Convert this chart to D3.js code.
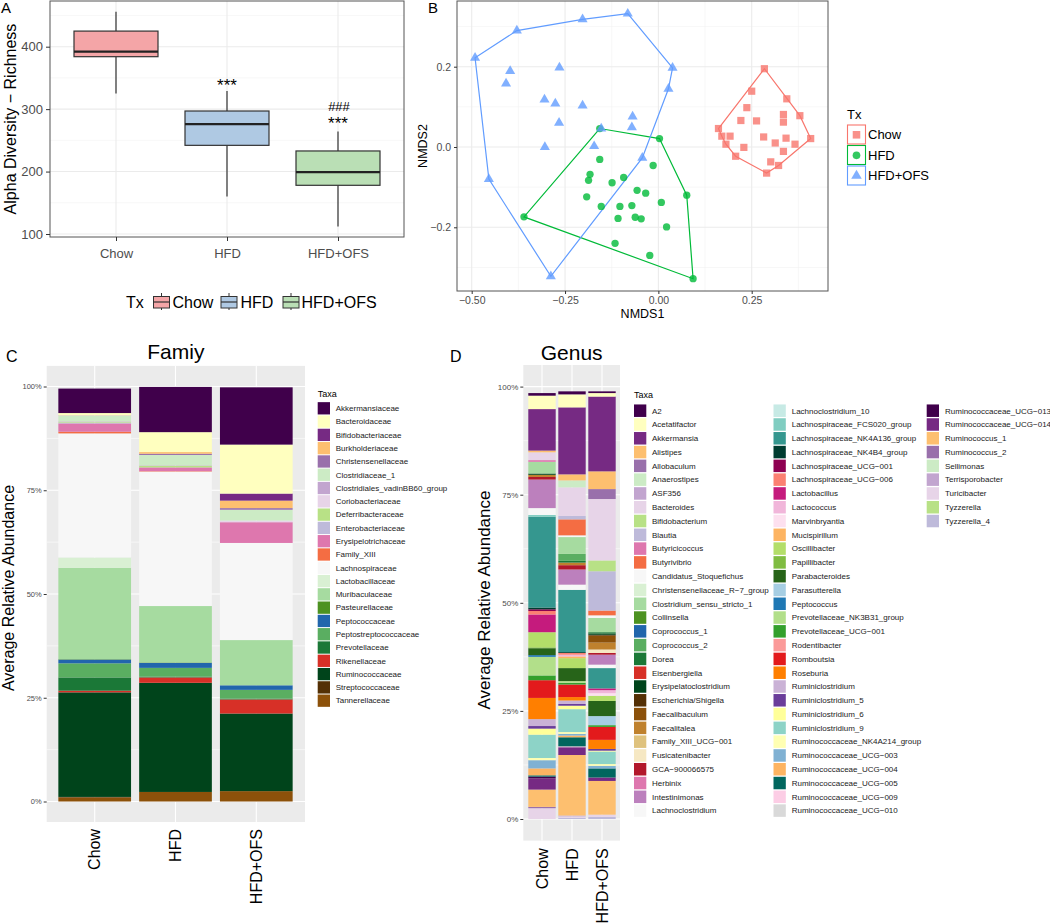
<!DOCTYPE html>
<html><head><meta charset="utf-8">
<script src="https://cdn.jsdelivr.net/npm/d3@7"></script>
<style>body{margin:0;background:#fff}svg{display:block;font-family:"Liberation Sans",Arial,Helvetica,sans-serif}</style>
</head><body>
<svg id="c" width="1050" height="924"></svg>
<script>
// ---------- DATA ----------
const txGroups = ["Chow", "HFD", "HFD+OFS"];
const txFill = ["#F4A5A7", "#AFC9E3", "#BADFB5"];
const txColor = ["#F8766D", "#00BA38", "#619CFF"];

// Panel A: boxplot statistics of richness
const boxMin = [325, 160, 112];
const boxQ1 = [384, 242, 178];
const boxMed = [392, 276, 199];
const boxQ3 = [425, 297, 233];
const boxMax = [456, 329, 264];
const richTicks = [100, 200, 300, 400];

// Panel B: NMDS ordination
const chowX = [0.284,0.250,0.344,0.237,0.335,0.379,0.221,0.263,0.335,0.161,0.170,0.192,0.282,0.342,0.408,0.181,0.229,0.313,0.366,0.335,0.207,0.301,0.322,0.290];
const chowY = [0.195,0.139,0.120,0.098,0.081,0.078,0.066,0.065,0.062,0.046,0.027,0.027,0.025,0.022,0.021,0.007,-0.001,0.010,0.007,-0.011,-0.023,-0.037,-0.046,-0.065];
const hfdX = [-0.157,0.003,0.076,0.093,-0.360,-0.157,-0.014,-0.183,-0.187,-0.093,-0.124,-0.057,-0.034,-0.192,-0.153,-0.103,-0.071,0.008,-0.108,-0.062,-0.046,0.022,-0.116,-0.023];
const hfdY = [0.046,0.021,-0.120,-0.328,-0.174,-0.031,-0.046,-0.068,-0.083,-0.076,-0.089,-0.108,-0.115,-0.124,-0.148,-0.148,-0.146,-0.138,-0.178,-0.175,-0.179,-0.199,-0.240,-0.270];
const ofsX = [-0.491,-0.379,-0.203,-0.082,0.038,-0.397,-0.265,-0.408,-0.305,-0.276,-0.203,-0.266,-0.069,-0.071,-0.153,0.027,-0.304,-0.172,-0.043,-0.454,-0.288];
const ofsY = [0.222,0.290,0.318,0.332,0.197,0.189,0.198,0.158,0.118,0.108,0.103,0.060,0.076,0.049,0.046,0.145,0.000,0.002,-0.027,-0.080,-0.322];
const nmds1Ticks = [-0.5, -0.25, 0, 0.25];
const nmds1Minor = [-0.375, -0.125, 0.125, 0.375];
const nmds2Ticks = [-0.2, 0, 0.2];
const nmds2Minor = [-0.3, -0.1, 0.1, 0.3];

// Panel C: family relative abundance (%)
const families = ["Akkermansiaceae","Bacteroidaceae","Bifidobacteriaceae","Burkholderiaceae","Christensenellaceae","Clostridiaceae_1","Clostridiales_vadinBB60_group","Coriobacteriaceae","Deferribacteraceae","Enterobacteriaceae","Erysipelotrichaceae","Family_XIII","Lachnospiraceae","Lactobacillaceae","Muribaculaceae","Pasteurellaceae","Peptococcaceae","Peptostreptococcaceae","Prevotellaceae","Rikenellaceae","Ruminococcaceae","Streptococcaceae","Tannerellaceae"];
const familyColors = ["#40004B","#FFFFBF","#762A83","#FDBF6F","#9970AB","#CCEBC5","#C2A5CF","#E7D4E8","#B8E186","#BEBADA","#DE77AE","#F46D43","#F7F7F7","#D9F0D3","#A6DBA0","#4D9221","#2166AC","#5AAE61","#1B7837","#D73027","#00441B","#543005","#8C510A"];
const famChow = [5.9,0.6,0,0,0.1,1.3,0.1,0,0.2,0.2,2.0,0.4,29.9,2.5,22.0,0.1,0.9,3.4,3.2,0.4,25.2,0.1,1.0];
const famHFD  = [10.9,4.8,0,0.4,0.3,2.5,0.1,0,0.4,0,0.9,0.1,32.4,0,13.6,0.1,1.2,2.1,0.2,1.3,26.3,0,2.3];
const famOFS  = [13.8,11.8,1.7,1.8,0.4,2.6,0,0.4,0,0,5.0,0,23.4,0,10.9,0,1.1,2.1,0.2,3.4,18.7,0,2.5];

// Panel D: genus relative abundance (%)
const genera = ["A2","Acetatifactor","Akkermansia","Alistipes","Allobaculum","Anaerostipes","ASF356","Bacteroides","Bifidobacterium","Blautia","Butyricicoccus","Butyrivibrio","Candidatus_Stoquefichus","Christensenellaceae_R\u22127_group","Clostridium_sensu_stricto_1","Collinsella","Coprococcus_1","Coprococcus_2","Dorea","Eisenbergiella","Erysipelatoclostridium","Escherichia/Shigella","Faecalibaculum","Faecalitalea","Family_XIII_UCG\u2212001","Fusicatenibacter","GCA\u2212900066575","Herbinix","Intestinimonas","Lachnoclostridium",
"Lachnoclostridium_10","Lachnospiraceae_FCS020_group","Lachnospiraceae_NK4A136_group","Lachnospiraceae_NK4B4_group","Lachnospiraceae_UCG\u2212001","Lachnospiraceae_UCG\u2212006","Lactobacillus","Lactococcus","Marvinbryantia","Mucispirillum","Oscillibacter","Papillibacter","Parabacteroides","Parasutterella","Peptococcus","Prevotellaceae_NK3B31_group","Prevotellaceae_UCG\u2212001","Rodentibacter","Romboutsia","Roseburia","Ruminiclostridium","Ruminiclostridium_5","Ruminiclostridium_6","Ruminiclostridium_9","Ruminococcaceae_NK4A214_group","Ruminococcaceae_UCG\u2212003","Ruminococcaceae_UCG\u2212004","Ruminococcaceae_UCG\u2212005","Ruminococcaceae_UCG\u2212009","Ruminococcaceae_UCG\u2212010",
"Ruminococcaceae_UCG\u2212013","Ruminococcaceae_UCG\u2212014","Ruminococcus_1","Ruminococcus_2","Sellimonas","Terrisporobacter","Turicibacter","Tyzzerella","Tyzzerella_4"];
const genusColors = ["#40004B","#FFFFBF","#762A83","#FDBF6F","#9970AB","#CCEBC5","#C2A5CF","#E7D4E8","#B8E186","#BEBADA","#DE77AE","#F46D43","#F7F7F7","#D9F0D3","#A6DBA0","#4D9221","#2166AC","#5AAE61","#1B7837","#D73027","#00441B","#543005","#8C510A","#BF812D","#DFC27D","#F6E8C3","#B2182B","#DE77AE","#BC80BD","#F7F7F7",
"#C7EAE5","#80CDC1","#35978F","#003C30","#8E0152","#FB8072","#C51B7D","#F1B6DA","#FDE0EF","#FDB462","#B3DE69","#7FBC41","#276419","#A6CEE3","#1F78B4","#B2DF8A","#33A02C","#FB9A99","#E31A1C","#FF7F00","#CAB2D6","#6A3D9A","#FFFF99","#8DD3C7","#FFFFB3","#80B1D3","#FDB462","#01665E","#FCCDE5","#D9D9D9",
"#40004B","#762A83","#FDBF6F","#9970AB","#CCEBC5","#C2A5CF","#E7D4E8","#B8E186","#BEBADA"];
const genChow = [0.6,3.1,9.6,0.4,0,0,0,1.8,0,0,0.4,0,0,0,2.7,0,0,0,0,0,0.3,0,0,0.5,0,0,0.6,0,6.6,1.6,
0,0.4,21.0,0.4,0.4,0.8,4.1,0,0,0,3.5,0.2,1.6,0,0.4,4.3,1.1,0,4.1,4.9,1.6,0.6,1.4,5.4,0.5,1.9,1.6,0.3,0,0,
0.4,2.6,4.0,0.3,0,0,2.5,0,0];
const genHFD = [0.7,3.0,15.5,1.4,0,1.6,0,6.6,0,0.8,0,3.7,0.4,0,3.9,0,0,1.6,0.4,0,0,0,0,0.6,0,0,1.0,0,3.5,1.2,
0,0,14.4,0.2,0,0.4,0,0.4,0,0.4,2.3,0,3.0,0,0,0.4,0.4,0,2.9,0.8,0.8,0.4,0.8,5.3,0.4,0.4,0.4,2.1,0.2,0,
0,1.8,14.0,0,0,0.2,0.3,0,0.3];
const genOFS = [0.4,0.8,17.3,4.1,2.3,0,0,14.2,2.5,9.1,0,1.1,0.6,0,3.3,0,0,0,0.3,0,0.3,0.2,1.6,1.6,0,0.8,0.4,0,2.3,0.8,
0,0,4.7,0,0,0,0.4,0.7,0.6,0,1.2,0,3.5,2.1,0,0,0.4,0,3.0,2.1,0,0.4,0.2,2.9,0.4,0.6,0,2.1,0,0,
0,0.8,7.8,0,0,0,0.5,0,0.5];
const pctTicks = [0, 25, 50, 75, 100];
const pctMinor = [12.5, 37.5, 62.5, 87.5];

// ---------- DRAW ----------
const svg = d3.select("#c");
const F = '"Liberation Sans",Arial,Helvetica,sans-serif';
function hline(g, x1, x2, y, col, w){ g.append("line").attr("x1",x1).attr("x2",x2).attr("y1",y).attr("y2",y).attr("stroke",col).attr("stroke-width",w); }
function vline(g, x, y1, y2, col, w){ g.append("line").attr("x1",x).attr("x2",x).attr("y1",y1).attr("y2",y2).attr("stroke",col).attr("stroke-width",w); }
function txt(g, x, y, s, size, anchor, col){ return g.append("text").attr("x",x).attr("y",y).text(s).attr("font-size",size).attr("text-anchor",anchor||"start").attr("fill",col||"#000"); }

// ===== Panel A =====
(function(){
  const g = svg.append("g");
  const L=50, R=404, T=1, B=237;
  const x = d3.scalePoint().domain(txGroups).range([116, 338]);
  const y = d3.scaleLinear().domain([100, 400]).range([234, 46.7]);
  [150,250,350,450].forEach(v => hline(g, L, R, y(v), "#F2F2F2", 0.6));
  richTicks.forEach(v => hline(g, L, R, y(v), "#EBEBEB", 1.1));
  txGroups.forEach(k => vline(g, x(k), T, B, "#EBEBEB", 1.1));
  const bw = 84;
  txGroups.forEach((k, i) => {
    const cx = x(k);
    vline(g, cx, y(boxMax[i]), y(boxQ3[i]), "#333", 1.2);
    vline(g, cx, y(boxQ1[i]), y(boxMin[i]), "#333", 1.2);
    g.append("rect").attr("x", cx-bw/2).attr("y", y(boxQ3[i])).attr("width", bw).attr("height", y(boxQ1[i])-y(boxQ3[i]))
      .attr("fill", txFill[i]).attr("stroke", "#333").attr("stroke-width", 1.2);
    hline(g, cx-bw/2, cx+bw/2, y(boxMed[i]), "#222", 2.2);
  });
  g.append("rect").attr("x",L).attr("y",T).attr("width",R-L).attr("height",B-T).attr("fill","none").attr("stroke","#555").attr("stroke-width",1);
  const ya = g.append("g").attr("transform",`translate(${L},0)`).call(d3.axisLeft(y).tickValues(richTicks).tickSize(4).tickPadding(3));
  const xa = g.append("g").attr("transform",`translate(0,${B})`).call(d3.axisBottom(x).tickSize(4).tickPadding(5));
  [ya, xa].forEach(a => { a.select(".domain").remove(); a.selectAll("line").attr("stroke","#333"); a.selectAll("text").attr("font-size",13).attr("fill","#4D4D4D").attr("font-family",F); });
  xa.selectAll("text").attr("dy","0.9em");
  g.append("text").attr("transform","translate(16,119) rotate(-90)").attr("text-anchor","middle").attr("font-size",16).text("Alpha Diversity \u2212 Richness");
  txt(g, x("HFD"), 91, "***", 17, "middle");
  txt(g, x("HFD+OFS")+1, 110.5, "###", 13, "middle");
  txt(g, x("HFD+OFS"), 129, "***", 17, "middle");
  txt(g, 1, 13, "A", 15);
  // legend
  txt(g, 126, 307.5, "Tx", 16);
  const keyX = [153.5, 221, 283], labX = [172.5, 240.5, 301.5];
  txGroups.forEach((k,i) => {
    vline(g, keyX[i]+8, 293, 310, "#333", 1);
    g.append("rect").attr("x",keyX[i]).attr("y",296.5).attr("width",16).attr("height",11.5).attr("fill",txFill[i]).attr("stroke","#333").attr("stroke-width",1);
    hline(g, keyX[i], keyX[i]+16, 302, "#333", 1.2);
    txt(g, labX[i], 307.5, k, 16);
  });
})();

// ===== Panel B =====
(function(){
  const g = svg.append("g");
  const L=457, R=828, T=1, B=291;
  const x = d3.scaleLinear().domain([-0.5, 0.25]).range([471.7, 751.7]);
  const y = d3.scaleLinear().domain([-0.2, 0.2]).range([227.3, 66.7]);
  nmds1Minor.forEach(v => vline(g, x(v), T, B, "#F2F2F2", 0.6));
  nmds2Minor.forEach(v => hline(g, L, R, y(v), "#F2F2F2", 0.6));
  nmds1Ticks.forEach(v => vline(g, x(v), T, B, "#EBEBEB", 1.1));
  nmds2Ticks.forEach(v => hline(g, L, R, y(v), "#EBEBEB", 1.1));
  const sets = [
    {xs: chowX, ys: chowY, sym: d3.symbolSquare, size: 52},
    {xs: hfdX, ys: hfdY, sym: d3.symbolCircle, size: 42},
    {xs: ofsX, ys: ofsY, sym: d3.symbolTriangle, size: 44}
  ];
  sets.forEach((s, i) => {
    const pts = s.xs.map((v, j) => [x(v), y(s.ys[j])]);
    const hull = d3.polygonHull(pts);
    g.append("path").attr("d", "M" + hull.join("L") + "Z").attr("fill","none").attr("stroke", txColor[i]).attr("stroke-width", 1.2);
  });
  sets.forEach((s, i) => {
    g.selectAll(null).data(s.xs).enter().append("path")
      .attr("d", d3.symbol().type(s.sym).size(s.size))
      .attr("transform", (v, j) => `translate(${x(v)},${y(s.ys[j])})`)
      .attr("fill", txColor[i]).attr("fill-opacity", 0.8);
  });
  g.append("rect").attr("x",L).attr("y",T).attr("width",R-L).attr("height",B-T).attr("fill","none").attr("stroke","#555").attr("stroke-width",1);
  const fmt1 = d => d === 0 ? "0.00" : d3.format(".2f")(d).replace("-","\u2212");
  const fmt2 = d => d3.format(".1f")(d).replace("-","\u2212");
  const xa = g.append("g").attr("transform",`translate(0,${B})`).call(d3.axisBottom(x).tickValues(nmds1Ticks).tickFormat(fmt1).tickSize(3).tickPadding(3));
  const ya = g.append("g").attr("transform",`translate(${L},0)`).call(d3.axisLeft(y).tickValues(nmds2Ticks).tickFormat(fmt2).tickSize(3).tickPadding(3));
  [xa, ya].forEach(a => { a.select(".domain").remove(); a.selectAll("line").attr("stroke","#333"); a.selectAll("text").attr("font-size",10.5).attr("fill","#4D4D4D").attr("font-family",F); });
  txt(g, (L+R)/2, 317.5, "NMDS1", 12.5, "middle");
  g.append("text").attr("transform","translate(426.5,146) rotate(-90)").attr("text-anchor","middle").attr("font-size",12.5).text("NMDS2");
  txt(g, 428, 13, "B", 15);
  // legend
  txt(g, 847, 118.5, "Tx", 13);
  const ky = [125, 145.5, 166];
  txGroups.forEach((k, i) => {
    g.append("rect").attr("x",847.5).attr("y",ky[i]).attr("width",18).attr("height",19).attr("fill","#fff").attr("stroke",txColor[i]).attr("stroke-width",1.1);
    g.append("path").attr("d", d3.symbol().type(sets[i].sym).size(sets[i].size*1.1)).attr("transform",`translate(856.5,${ky[i]+9.8})`).attr("fill",txColor[i]).attr("fill-opacity",0.8);
    txt(g, 868, ky[i]+14, k, 13);
  });
})();

// ===== stacked bar helper =====
function stackedPanel(opt){
  const g = svg.append("g");
  const {L, R, T, B, y0, y100, cx, bw} = opt;
  const x = d3.scalePoint().domain(txGroups).range(cx);
  const y = d3.scaleLinear().domain([0, 100]).range([y0, y100]);
  g.append("rect").attr("x",L).attr("y",T).attr("width",R-L).attr("height",B-T).attr("fill","#EBEBEB");
  pctMinor.forEach(v => hline(g, L, R, y(v), "#fff", 0.55));
  pctTicks.forEach(v => hline(g, L, R, y(v), "#fff", 1.1));
  txGroups.forEach(k => vline(g, x(k), T, B, "#fff", 1.1));
  opt.values.forEach((vals, gi) => {
    let cum = 0;
    for (let i = vals.length - 1; i >= 0; i--) {
      const v = vals[i];
      if (v <= 0) continue;
      g.append("rect").attr("x", x(txGroups[gi]) - bw/2).attr("width", bw)
        .attr("y", y(cum + v)).attr("height", y(cum) - y(cum + v)).attr("fill", opt.colors[i]);
      cum += v;
    }
  });
  const ya = g.append("g").attr("transform",`translate(${L},0)`).call(d3.axisLeft(y).tickValues(pctTicks).tickFormat(d => d + "%").tickSize(3).tickPadding(2));
  ya.select(".domain").remove(); ya.selectAll("line").attr("stroke","#333");
  ya.selectAll("text").attr("font-size", opt.tickSize).attr("fill","#4D4D4D").attr("font-family",F);
  txGroups.forEach(k => {
    g.append("text").attr("transform",`translate(${x(k)},${opt.labTop}) rotate(-90)`).attr("text-anchor","end").attr("dy","0.36em")
      .attr("font-size",16).text(k);
  });
  txt(g, (L+R)/2, opt.titleY, opt.title, 21, "middle");
  txt(g, opt.letterX, 362, opt.letter, 16);
  g.append("text").attr("transform",`translate(${opt.yTitleX},${opt.yTitleY}) rotate(-90)`).attr("text-anchor","middle").attr("font-size",opt.yTitleSize).text("Average Relative Abundance");
  // legend
  txt(g, opt.legX[0], opt.legTitleY, "Taxa", 9);
  opt.names.forEach((n, i) => {
    const col = Math.floor(i / opt.perCol), row = i % opt.perCol;
    const cy = opt.legY0 + row * opt.legStep;
    g.append("rect").attr("x", opt.legX[col]).attr("y", cy - opt.keyH/2).attr("width", 12.3).attr("height", opt.keyH).attr("fill", opt.colors[i]);
    txt(g, opt.legTX[col], cy + 2.8, n, opt.legFont, "start", "#1a1a1a");
  });
}

// ===== Panel C =====
stackedPanel({
  L: 46.7, R: 305, T: 365.9, B: 822, y0: 801.5, y100: 386.5, cx: [94.7, 256.3], bw: 72.7,
  values: [famChow, famHFD, famOFS], colors: familyColors, names: families,
  tickSize: 7.5, labTop: 829, title: "Famiy", titleY: 359, letter: "C", letterX: 6,
  yTitleX: 14, yTitleY: 588, yTitleSize: 16,
  legX: [317.7], legTX: [335.7], legTitleY: 396.5, legY0: 408.3, legStep: 13.29, perCol: 23, keyH: 12.3, legFont: 8
});

// ===== Panel D =====
stackedPanel({
  L: 523.3, R: 620, T: 365, B: 840.6, y0: 819, y100: 386.6, cx: [542, 602], bw: 27.4,
  values: [genChow, genHFD, genOFS], colors: genusColors, names: genera,
  tickSize: 8, labTop: 848.3, title: "Genus", titleY: 360, letter: "D", letterX: 450,
  yTitleX: 490, yTitleY: 600, yTitleSize: 17,
  legX: [634, 773.5, 926.7], legTX: [652, 791.7, 945], legTitleY: 398, legY0: 410.7, legStep: 13.79, perCol: 30, keyH: 12.5, legFont: 8
});
</script>
</body></html>
